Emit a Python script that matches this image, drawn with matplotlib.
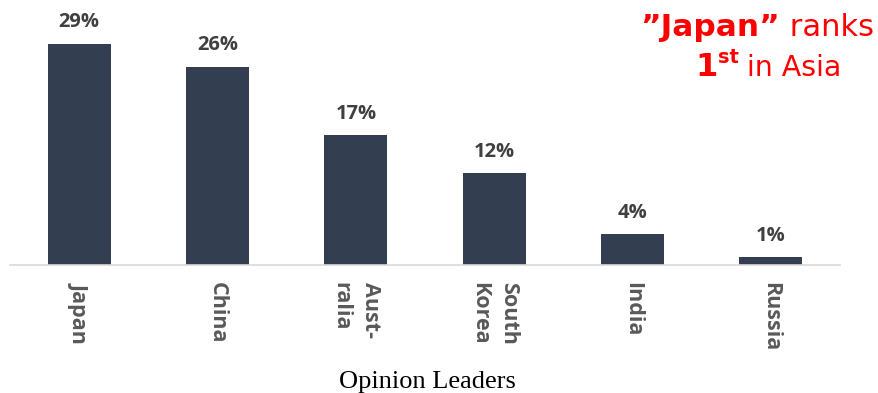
import matplotlib.pyplot as plt

# Dados do gráfico
paises = ["Japan", "China", "Aust-\nralia", "South\nKorea", "India", "Russia"]
valores = [29, 26, 17, 12, 4, 1]
rotulos = ["29%", "26%", "17%", "12%", "4%", "1%"]

COR_BARRA = "#333f50"
COR_VALOR = "#404040"
COR_EIXO = "#595959"
VERMELHO = "#ff0000"

W, H = 879, 393
fig = plt.figure(figsize=(W / 100, H / 100), dpi=100)
ax = fig.add_axes([10 / W, 128 / H, 830 / W, 229 / H])

x = list(range(len(paises)))
barras = ax.bar(x, valores, width=0.455, color=COR_BARRA)

for xi, v, r in zip(x, valores, rotulos):
    ax.annotate(r, xy=(xi, v), xytext=(0, 12), textcoords="offset points",
                ha="center", va="baseline", fontsize=14.5, fontweight="bold",
                family="Open Sans", color=COR_VALOR, annotation_clip=False)

ax.set_xlim(-0.5, 5.5)
ax.set_ylim(0, 30)
ax.set_yticks([])
ax.set_xticks(x)
ax.set_xticklabels(paises, rotation=-90, fontsize=15.5, fontweight="bold",
                   family="Open Sans", color=COR_EIXO, va="top", ha="center")
for t in ax.get_xticklabels():
    t.set_multialignment("left")
    t.set_linespacing(1.5)
ax.tick_params(axis="x", length=0, pad=12)

for lado in ["top", "right", "left"]:
    ax.spines[lado].set_visible(False)
ax.spines["bottom"].set_color("#d9d9d9")
ax.spines["bottom"].set_linewidth(1.2)

fig.text(427 / W, 5 / H, "Opinion Leaders", ha="center", va="baseline",
         fontsize=19, family="Liberation Serif", color="black")


# Texto em vermelho com partes em negrito, montado peça por peça
def px(xp, yp):
    return xp / W, (H - yp) / H


renderer = fig.canvas.get_renderer()

t_ranks = fig.text(*px(874, 36), " ranks", ha="right", va="baseline",
                   fontsize=22, family="DejaVu Sans", color=VERMELHO)
w = t_ranks.get_window_extent(renderer).width
fig.text(*px(874 - w, 36), "\u201dJapan\u201d", ha="right", va="baseline",
         fontsize=22.5, fontweight="bold", family="DejaVu Sans", color=VERMELHO)

x0 = 695
t1 = fig.text(*px(x0, 76), "1", ha="left", va="baseline", fontsize=23,
              fontweight="bold", family="DejaVu Sans", color=VERMELHO)
x0 += t1.get_window_extent(renderer).width
tst = fig.text(*px(x0 + 1, 63), "st", ha="left", va="baseline", fontsize=14,
               fontweight="bold", family="DejaVu Sans", color=VERMELHO)
x0 += tst.get_window_extent(renderer).width
fig.text(*px(x0, 76), " in Asia", ha="left", va="baseline", fontsize=20.5,
         family="DejaVu Sans", color=VERMELHO)

fig.savefig("out.png", dpi=100)
